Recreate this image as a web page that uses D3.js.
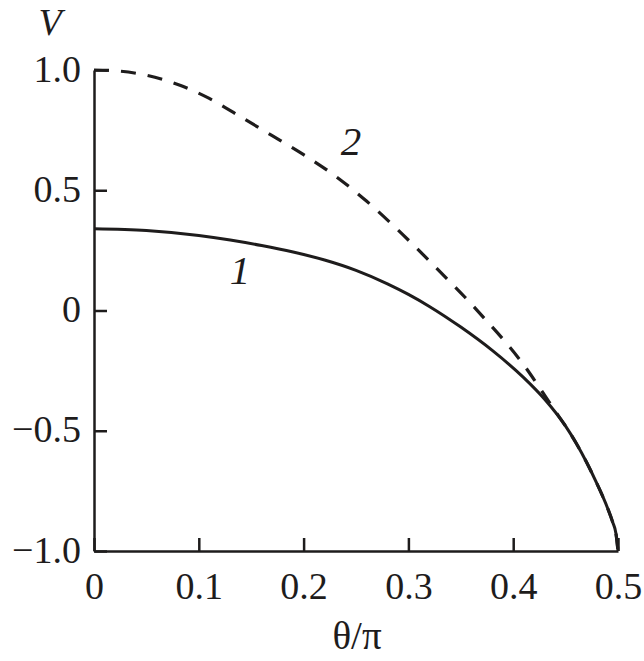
<!DOCTYPE html>
<html>
<head>
<meta charset="utf-8">
<script src="https://cdn.jsdelivr.net/npm/d3@7"></script>
<style>
  html, body { margin: 0; padding: 0; background: #fff; }
  svg { display: block; }
</style>
</head>
<body>
<svg id="chart" width="644" height="661"></svg>
<script>
// ---- data ----
const xTicks = [0, 0.1, 0.2, 0.3, 0.4, 0.5];
const xTickLabels = ["0", "0.1", "0.2", "0.3", "0.4", "0.5"];
const yTicks = [-1.0, -0.5, 0, 0.5, 1.0];
const yTickLabels = ["\u22121.0", "\u22120.5", "0", "0.5", "1.0"];

// curve 1 (solid): theta/pi, V
const curve1Theta = [0, 0.05, 0.1, 0.13, 0.16, 0.19, 0.22, 0.25, 0.28, 0.3, 0.32, 0.35, 0.38, 0.41, 0.43, 0.45, 0.46, 0.47, 0.48, 0.49, 0.495, 0.498, 0.5];
const curve1V     = [0.34, 0.333, 0.312, 0.293, 0.27, 0.243, 0.21, 0.167, 0.111, 0.067, 0.017, -0.069, -0.166, -0.279, -0.369, -0.481, -0.551, -0.631, -0.721, -0.821, -0.881, -0.926, -1.0];

// curve 2 (dashed): theta/pi, V
const curve2Theta = [0, 0.025, 0.05, 0.08, 0.11, 0.14, 0.17, 0.2, 0.23, 0.26, 0.29, 0.315, 0.335, 0.354, 0.373, 0.392, 0.41, 0.425, 0.44, 0.45, 0.46, 0.47, 0.48, 0.49, 0.495, 0.498, 0.5];
const curve2V     = [1.0, 0.995, 0.978, 0.94, 0.882, 0.805, 0.727, 0.648, 0.56, 0.455, 0.335, 0.228, 0.14, 0.055, -0.035, -0.128, -0.226, -0.32, -0.418, -0.481, -0.551, -0.631, -0.721, -0.821, -0.881, -0.926, -1.0];

const curveLabels = ["1", "2"];
const xTitle = "\u03b8/\u03c0";
const yTitle = "V";

// ---- layout ----
const svg = d3.select("#chart");
const ink = "#1e1c1c";
const font = "'Liberation Serif', 'Times New Roman', serif";

const x = d3.scaleLinear().domain([0, 0.5]).range([94, 618]);
const y = d3.scaleLinear().domain([-1, 1]).range([551, 70]);

// curves
const line = d3.line()
  .x(d => x(d[0]))
  .y(d => y(d[1]))
  .curve(d3.curveMonotoneX);

const c1 = curve1Theta.map((t, i) => [t, curve1V[i]]);
const c2 = curve2Theta.map((t, i) => [t, curve2V[i]]);

svg.append("path")
  .attr("d", line(c2))
  .attr("fill", "none")
  .attr("stroke", ink)
  .attr("stroke-width", 3.2)
  .attr("stroke-dasharray", "15,12");

svg.append("path")
  .attr("d", line(c1))
  .attr("fill", "none")
  .attr("stroke", ink)
  .attr("stroke-width", 3);

// axes
const xAxis = d3.axisBottom(x)
  .tickValues(xTicks)
  .tickFormat((d, i) => xTickLabels[i])
  .tickSizeInner(-13)
  .tickSizeOuter(0)
  .tickPadding(21);

const yAxis = d3.axisLeft(y)
  .tickValues(yTicks)
  .tickFormat((d, i) => yTickLabels[i])
  .tickSizeInner(-13)
  .tickSizeOuter(0)
  .tickPadding(13);

const gx = svg.append("g").attr("transform", `translate(0,${y(-1)})`).call(xAxis);
const gy = svg.append("g").attr("transform", `translate(${x(0)},0)`).call(yAxis);

[gx, gy].forEach(g => {
  g.select(".domain").attr("stroke", ink).attr("stroke-width", 2.5);
  g.selectAll(".tick line").attr("stroke", ink).attr("stroke-width", 2.5);
  g.selectAll(".tick text")
    .attr("fill", ink)
    .style("font-family", font)
    .style("font-size", "38px");
});
gy.selectAll(".tick text").attr("dy", "0.29em");

// axis titles
svg.append("text")
  .attr("x", 357).attr("y", 649)
  .attr("text-anchor", "middle")
  .attr("fill", ink)
  .style("font-family", font)
  .style("font-size", "39px")
  .text(xTitle);

svg.append("text")
  .attr("x", 50).attr("y", 35)
  .attr("text-anchor", "middle")
  .attr("fill", ink)
  .style("font-family", font)
  .style("font-style", "italic")
  .style("font-size", "38px")
  .text(yTitle);

// curve labels
svg.append("text")
  .attr("x", 240).attr("y", 284)
  .attr("text-anchor", "middle")
  .attr("fill", ink)
  .style("font-family", font)
  .style("font-style", "italic")
  .style("font-size", "41px")
  .text(curveLabels[0]);

svg.append("text")
  .attr("x", 351).attr("y", 155)
  .attr("text-anchor", "middle")
  .attr("fill", ink)
  .style("font-family", font)
  .style("font-style", "italic")
  .style("font-size", "41px")
  .text(curveLabels[1]);
</script>
</body>
</html>
